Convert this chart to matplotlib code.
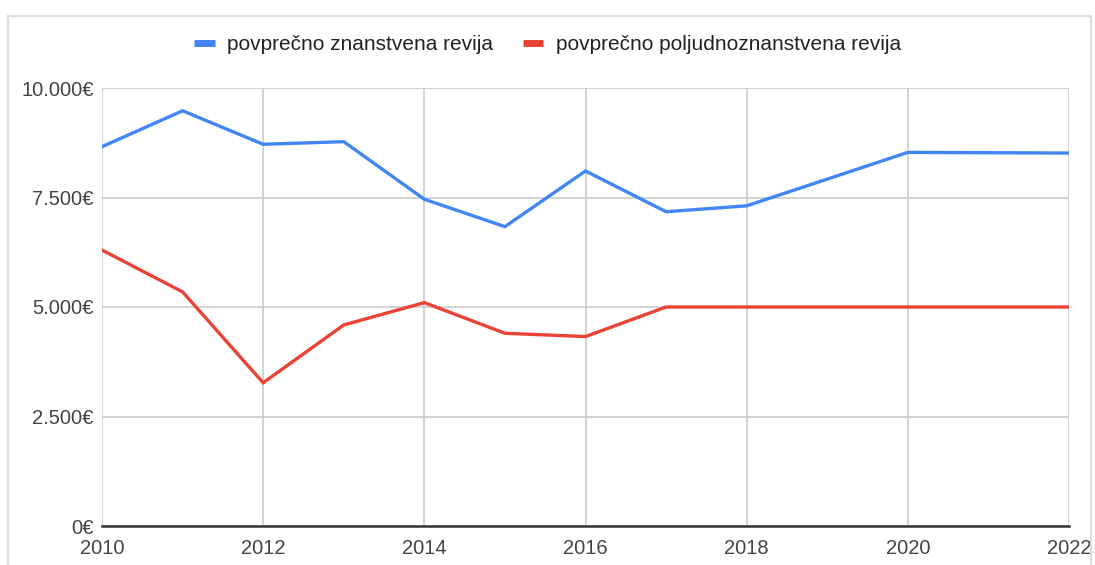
import matplotlib
matplotlib.use("Agg")
import matplotlib.pyplot as plt
from matplotlib.patches import Rectangle
from matplotlib.ticker import FuncFormatter, MultipleLocator

years_blue = [2010, 2011, 2012, 2013, 2014, 2015, 2016, 2017, 2018, 2020, 2022]
znanstvena = [8660, 9480, 8715, 8775, 7460, 6835, 8105, 7175, 7310, 8530, 8515]
years_red = [2010, 2011, 2012, 2013, 2014, 2015, 2016, 2017, 2018, 2020, 2022]
poljudno = [6300, 5345, 3270, 4590, 5100, 4400, 4325, 5000, 5000, 5000, 5000]
series_names = ["povprečno znanstvena revija", "povprečno poljudnoznanstvena revija"]
x_ticks = [2010, 2012, 2014, 2016, 2018, 2020, 2022]

plt.rcParams['font.family'] = ['Liberation Sans', 'DejaVu Sans']

fig = plt.figure(figsize=(10.95, 5.65), dpi=100)
fig.patch.set_facecolor('white')
W, H = 1095, 565
ax = fig.add_axes([102 / W, 1 - 526 / H, (1069 - 102) / W, (526 - 88) / H])

# outer frame
fig.add_artist(Rectangle((8 / W, -0.05), (1091 - 8) / W, 1.05 - 16 / H,
                         transform=fig.transFigure, fill=False,
                         edgecolor='#dddddd', linewidth=1.6))

l1, = ax.plot(years_blue, znanstvena, color='#4285F4', linewidth=2.4,
              solid_joinstyle='miter', zorder=3)
l2, = ax.plot(years_red, poljudno, color='#EA4335', linewidth=2.4,
              solid_joinstyle='miter', zorder=3)

ax.set_xlim(2010, 2022)
ax.set_ylim(0, 10000)
ax.set_xticks(x_ticks)
ax.yaxis.set_major_locator(MultipleLocator(2500))


def eur(v, pos):
    s = f"{int(round(v)):,}".replace(",", ".")
    return s + "€"


ax.yaxis.set_major_formatter(FuncFormatter(eur))
ax.grid(True, color='#cccccc', linewidth=1.2, zorder=0)
for s in ['top', 'right', 'left']:
    ax.spines[s].set_visible(False)
ax.spines['bottom'].set_color('#333333')
ax.spines['bottom'].set_linewidth(1.8)
ax.spines['bottom'].set_zorder(4)
ax.tick_params(axis='both', length=0, labelsize=14.5, labelcolor='#444444')
ax.tick_params(axis='x', pad=9)
ax.tick_params(axis='y', pad=6)
ax.set_axisbelow(True)

leg = fig.legend([l1, l2], series_names, loc='center', ncol=2,
                 bbox_to_anchor=(0.5, 1 - 45 / H), frameon=False,
                 fontsize=15, handlelength=1.0, handletextpad=0.6,
                 columnspacing=1.4, labelcolor='#222222')
for h in leg.legend_handles:
    h.set_linewidth(5)
    h.set_solid_capstyle('butt')

fig.savefig('out.png', dpi=100, facecolor='white')
